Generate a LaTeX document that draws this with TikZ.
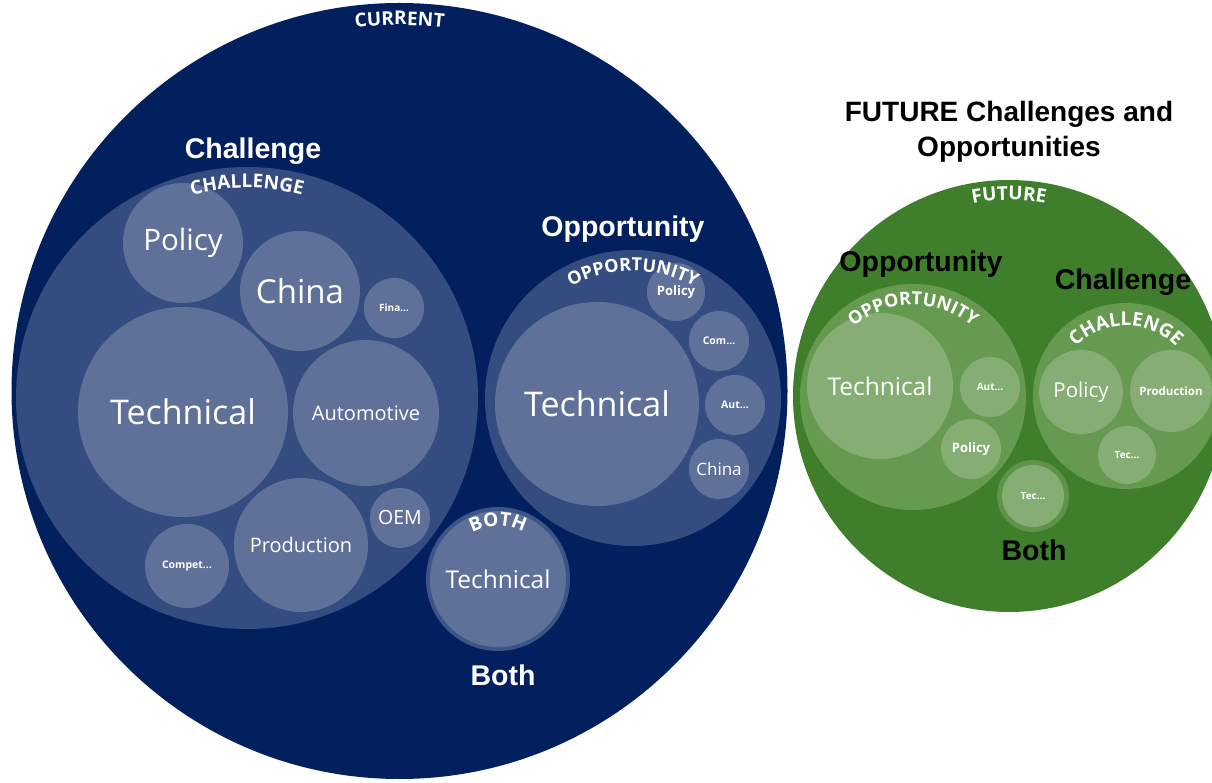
\documentclass[tikz,border=0pt]{standalone}
\usepackage{fontspec}
\setmainfont{Open Sans}
\newfontfamily\lbl{Open Sans}
\newfontfamily\hd{Liberation Sans}
\usetikzlibrary{decorations.text}
\definecolor{navyA}{HTML}{02205E}
\definecolor{navyB}{HTML}{344C80}
\definecolor{navyC}{HTML}{5F7199}
\definecolor{navyR}{HTML}{3D5486}
\definecolor{grnA}{HTML}{3F7F2C}
\definecolor{grnB}{HTML}{669A50}
\definecolor{grnC}{HTML}{86AE74}
\definecolor{grnR}{HTML}{5F9349}
\tikzset{
  bub/.style={circle, inner sep=0pt, outer sep=0pt, minimum size=#1, text=white},
  fs/.style={font=\lbl\fontsize{#1}{#1}\selectfont},
  fsb/.style={font=\lbl\bfseries\fontsize{#1}{#1}\selectfont},
  hdw/.style={anchor=base, text=white, font=\hd\bfseries\fontsize{28.5}{28.5}\selectfont},
  hdk/.style={anchor=base, text=black, font=\hd\bfseries\fontsize{28.5}{28.5}\selectfont},
  arclabel/.style={decorate, decoration={text along path, text align=center,
     text color=white, text={|\lbl\bfseries\fontsize{19}{19}\selectfont|#1}}},
  arclabelsm/.style={decorate, decoration={text along path, text align=center,
     text color=white, text={|\lbl\bfseries\fontsize{18}{18}\selectfont|#1}}}
}
\begin{document}
\begin{tikzpicture}[x=1pt,y=1pt]
\useasboundingbox (0,0) rectangle (1212,782);
\fill[white] (0,0) rectangle (1212,782);

% ---------- CURRENT ----------
\node[bub=776, fill=navyA] (cur) at (399.5,391) {};
\node[bub=462, fill=navyB] (cch) at (247,384) {};
\node[bub=296, fill=navyB] (cop) at (633,384) {};
\node[bub=144, fill=navyR] (cbo) at (498,203) {};

% challenge bubbles
\node[bub=120, fill=navyC, fs=29.5] (cpol) at (183,539) {Policy};
\node[bub=120, fill=navyC, fs=33] (cchi) at (300,491) {China};
\node[bub=60,  fill=navyC, fsb=10] (cfin) at (394,474) {Fina…};
\node[bub=210, fill=navyC, fs=34] (ctec) at (183,370) {Technical};
\node[bub=146, fill=navyC, fs=20] (caut) at (366,369) {Automotive};
\node[bub=134, fill=navyC, fs=20] (cpro) at (301,237) {Production};
\node[bub=60,  fill=navyC, fs=19.5] (coem) at (400,264) {OEM};
\node[bub=84,  fill=navyC, fsb=10.5] (ccom) at (187,216) {Compet…};

% opportunity bubbles
\node[bub=204, fill=navyC, fs=34] (otec) at (597,378) {Technical};
\node[bub=58,  fill=navyC, fsb=13] (opol) at (676,490) {Policy};
\node[bub=60,  fill=navyC, fsb=10.5] (ocom) at (719,441) {Com…};
\node[bub=60,  fill=navyC, fsb=10.5] (oaut) at (735,377) {Aut…};
\node[bub=60,  fill=navyC, fs=17] (ochi) at (719,313) {China};

% both
\node[bub=136, fill=navyC, fs=24.5] (btec) at (498,203) {Technical};

% arc labels
\path[arclabel=CURRENT] ([shift={(110:366)}]cur.center) arc[start angle=110, end angle=70, radius=366];
\path[arclabel=CHALLENGE] ([shift={(120:210)}]cch.center) arc[start angle=120, end angle=60, radius=210];
\path[arclabelsm=OPPORTUNITY] ([shift={(140:127)}]cop.center) arc[start angle=140, end angle=40, radius=127];
\path[arclabel=BOTH] ([shift={(150:53)}]cbo.center) arc[start angle=150, end angle=30, radius=53];

% headings
\node[hdw] (hch) at (253,623) {Challenge};
\node[hdw] (hop) at (623,545) {Opportunity};
\node[hdw] (hbo) at (503,97) {Both};

% ---------- FUTURE ----------
\node[bub=432, fill=grnA] (fut) at (1009,386) {};
\node[bub=226, fill=grnB] (fop) at (913,385) {};
\node[bub=186, fill=grnB] (fch) at (1126,386) {};
\node[bub=72,  fill=grnR] (fbo) at (1033,286) {};

\node[bub=146, fill=grnC, fs=24.5] (ftec) at (880,396) {Technical};
\node[bub=60,  fill=grnC, fsb=10] (faut) at (990,395) {Aut…};
\node[bub=60,  fill=grnC, fsb=13] (fpol) at (971,333) {Policy};

\node[bub=84,  fill=grnC, fs=20.5] (fcpol) at (1081,390) {Policy};
\node[bub=82,  fill=grnC, fsb=11.5] (fcpro) at (1171,391) {Production};
\node[bub=58,  fill=grnC, fsb=10] (fctec) at (1127,327) {Tec…};

\node[bub=62,  fill=grnC, fsb=10] (fbtec) at (1033,286) {Tec…};

\path[arclabel=FUTURE] ([shift={(120:196)}]fut.center) arc[start angle=120, end angle=60, radius=196];
\path[arclabelsm=OPPORTUNITY] ([shift={(160:92)}]fop.center) arc[start angle=160, end angle=20, radius=92];
\path[arclabel=CHALLENGE] ([shift={(170:70)}]fch.center) arc[start angle=170, end angle=10, radius=70];

\node[align=center, text=black, font=\hd\bfseries\fontsize{28}{35}\selectfont] (title) at (1009,650) {FUTURE Challenges and\\Opportunities};
\node[hdk] (fhop) at (921,510) {Opportunity};
\node[hdk] (fhch) at (1123,492) {Challenge};
\node[hdk] (fhbo) at (1034,221) {Both};
\end{tikzpicture}
\end{document}
